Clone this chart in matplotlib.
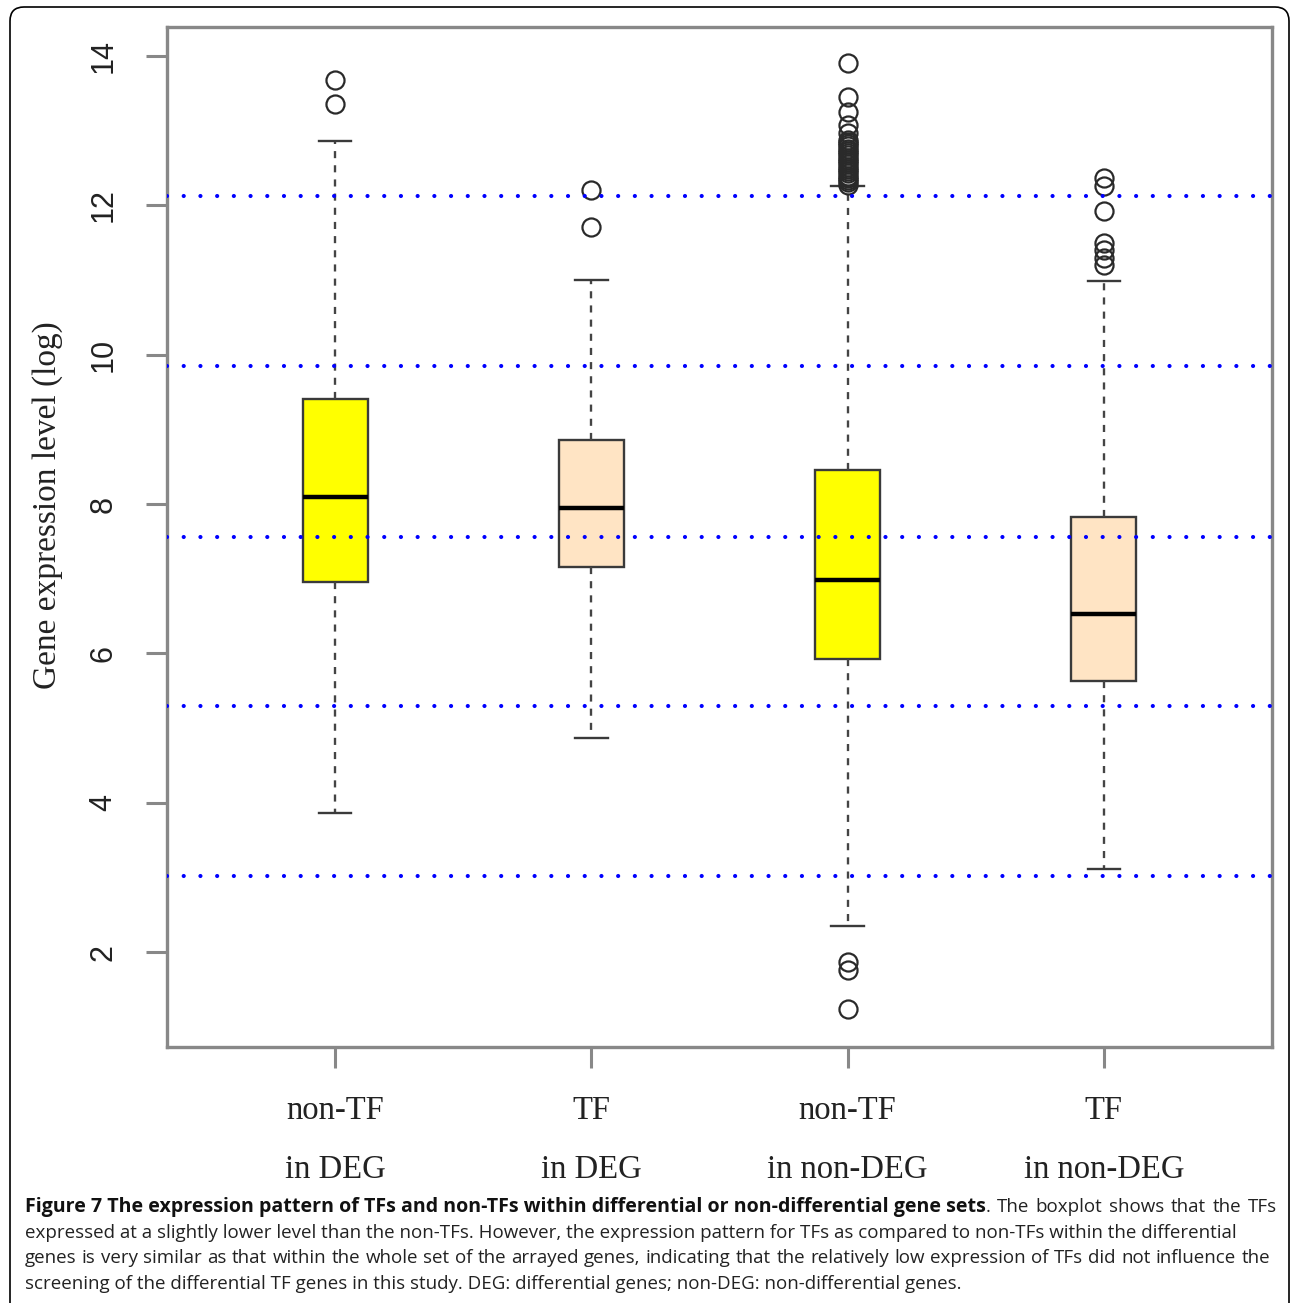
import matplotlib
matplotlib.use("Agg")
import matplotlib.pyplot as plt
from matplotlib.patches import FancyBboxPatch
from matplotlib.transforms import IdentityTransform

# ---------------- data ----------------
categories = ["non-TF\nin DEG", "TF\nin DEG", "non-TF\nin non-DEG", "TF\nin non-DEG"]
box_q1 = [6.96, 7.16, 5.92, 5.63]
box_med = [8.10, 7.95, 6.99, 6.53]
box_q3 = [9.41, 8.86, 8.46, 7.83]
whisker_lo = [3.87, 4.87, 2.35, 3.12]
whisker_hi = [12.86, 11.00, 12.26, 10.99]
outliers_1 = [13.68, 13.36]
outliers_2 = [12.21, 11.71]
outliers_3 = [13.91, 13.45, 13.25, 13.08, 12.97, 12.88, 12.85, 12.82, 12.79, 12.76,
              12.73, 12.70, 12.67, 12.64, 12.61, 12.58, 12.55, 12.52, 12.49, 12.46,
              12.43, 12.40, 12.37, 12.34, 12.31, 12.28, 1.87, 1.76, 1.24]
outliers_4 = [12.37, 12.26, 11.93, 11.50, 11.40, 11.30, 11.20]
box_colors = ["#FFFF00", "#FFE4C4", "#FFFF00", "#FFE4C4"]
ref_lines = [12.13, 9.85, 7.56, 5.30, 3.02]
yticks = [2, 4, 6, 8, 10, 12, 14]
ylabel = "Gene expression level (log)"
caption_bold = "Figure 7 The expression pattern of TFs and non-TFs within differential or non-differential gene sets"
caption_lines = [
    ". The boxplot shows that the TFs",
    "expressed at a slightly lower level than the non-TFs. However, the expression pattern for TFs as compared to non-TFs within the differential",
    "genes is very similar as that within the whole set of the arrayed genes, indicating that the relatively low expression of TFs did not influence the",
    "screening of the differential TF genes in this study. DEG: differential genes; non-DEG: non-differential genes.",
]

W, H = 1290, 1303
fig = plt.figure(figsize=(W / 100, H / 100), dpi=100)
ax = fig.add_axes([167 / W, 1 - 1047 / H, (1272 - 167) / W, (1047 - 27) / H])

outliers = [outliers_1, outliers_2, outliers_3, outliers_4]
stats = []
for i in range(4):
    stats.append(dict(med=box_med[i], q1=box_q1[i], q3=box_q3[i],
                      whislo=whisker_lo[i], whishi=whisker_hi[i],
                      fliers=outliers[i], label=categories[i]))

positions = [1, 2, 3, 4]
bp = ax.bxp(stats, positions=positions, widths=0.254, patch_artist=True,
            boxprops=dict(edgecolor="#3a3a3a", linewidth=1.7),
            medianprops=dict(color="black", linewidth=3.2, solid_capstyle="butt"),
            whiskerprops=dict(color="#444444", linewidth=1.7, linestyle=(0, (3, 3))),
            capprops=dict(color="#3a3a3a", linewidth=1.7),
            flierprops=dict(marker="o", markerfacecolor="none", markeredgecolor="#2a2a2a",
                            markersize=13, markeredgewidth=1.6))
for patch, c in zip(bp["boxes"], box_colors):
    patch.set_facecolor(c)

for v in ref_lines:
    ax.axhline(v, color="#0000FF", linewidth=3.0, linestyle=(0, (0.01, 4.0)),
               dash_capstyle="round", zorder=5)

ax.set_xlim(0.344, 4.656)
ax.set_ylim(0.73, 14.39)
ax.set_yticks(yticks)
ax.set_yticklabels([str(t) for t in yticks], rotation=90, va="center",
                   fontsize=22, family=["Liberation Sans", "DejaVu Sans"])
ax.set_xticks(positions)
ax.set_xticklabels(categories, fontsize=23.5, family=["Liberation Serif", "DejaVu Serif"],
                   linespacing=2.2)
for sp in ax.spines.values():
    sp.set_color("#888888")
    sp.set_linewidth(2.4)
ax.tick_params(axis="both", colors="#888888", length=15, width=2.2, labelcolor="#222222")
ax.tick_params(axis="y", pad=20)
ax.tick_params(axis="x", pad=20)
ax.set_ylabel(ylabel, fontsize=24, family=["Liberation Serif", "DejaVu Serif"],
              color="#222222", labelpad=18, y=0.531)

# figure border (rounded)
border = FancyBboxPatch((10, -40), 1279, 1303 - 7 + 40, boxstyle="round,pad=0,rounding_size=14",
                        transform=IdentityTransform(), fill=False, edgecolor="black",
                        linewidth=1.2)
fig.patches.append(border)

# caption
fig.canvas.draw()
renderer = fig.canvas.get_renderer()
cap_font = ["Open Sans", "DejaVu Sans"]
fs = 13.5
line_y = [1207, 1233, 1258, 1284]


def justify(text, x_start, x_end, ypix, size, color):
    """Place words of text evenly between x_start and x_end (pixels)."""
    words = text.split(" ")
    objs, widths = [], []
    for w in words:
        t = fig.text(0, 1 - ypix / H, w, fontsize=size, family=cap_font,
                     va="center", ha="left", color=color)
        objs.append(t)
        widths.append(t.get_window_extent(renderer).width)
    gap = (x_end - x_start - sum(widths)) / (len(words) - 1)
    x = x_start
    for t, wd in zip(objs, widths):
        t.set_x(x / W)
        x += wd + gap


tb = fig.text(25 / W, 1 - line_y[0] / H, caption_bold, fontsize=14.1, family=cap_font,
              weight="bold", va="center", ha="left", color="#111111")
bb = tb.get_window_extent(renderer)
t1 = fig.text(bb.x1 / W, 1 - line_y[0] / H, ".", fontsize=fs, family=cap_font,
              va="center", ha="left", color="#222222")
b1 = t1.get_window_extent(renderer)
justify(caption_lines[0][2:], b1.x1 + 6, 1277, line_y[0], fs, "#222222")
fig.text(25 / W, 1 - line_y[1] / H, caption_lines[1], fontsize=fs, family=cap_font,
         va="center", ha="left", color="#222222")
justify(caption_lines[2], 25, 1270, line_y[2], fs, "#222222")
fig.text(25 / W, 1 - line_y[3] / H, caption_lines[3], fontsize=fs, family=cap_font,
         va="center", ha="left", color="#222222")

fig.savefig("out.png", dpi=100)
